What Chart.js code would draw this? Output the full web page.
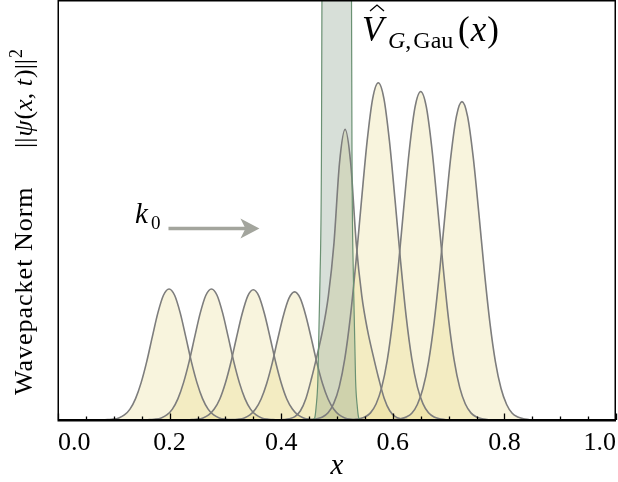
<!DOCTYPE html>
<html lang="en">
  <head>
    <meta charset="utf-8" />
    <title>Wavepacket Norm</title>
    <style>
      body {
        margin: 0;
        background-color: white;
      }
    </style>
  </head>
  <body>
    <canvas id="chart" width="618" height="482"></canvas>
    <script src="https://cdn.jsdelivr.net/npm/chart.js"></script>
    <script>
      // x offsets around each packet centre
      const offsets = [
        -0.12, -0.11, -0.1, -0.09, -0.08, -0.07, -0.06, -0.05, -0.04, -0.03,
        -0.02, -0.01, 0, 0.01, 0.02, 0.03, 0.04, 0.05, 0.06, 0.07, 0.08, 0.09,
        0.1, 0.11, 0.12,
      ];
      const packetCenters = [0.199, 0.275, 0.35, 0.424, 0.5145, 0.574, 0.65, 0.724];

      const packet1 = [0, 0.001, 0.002, 0.005, 0.012, 0.026, 0.051, 0.089, 0.139, 0.198, 0.255, 0.297, 0.312, 0.297, 0.255, 0.198, 0.139, 0.089, 0.051, 0.026, 0.012, 0.005, 0.002, 0.001, 0];
      const packet2 = [0, 0.001, 0.002, 0.005, 0.012, 0.026, 0.051, 0.089, 0.139, 0.198, 0.255, 0.297, 0.312, 0.297, 0.255, 0.198, 0.139, 0.089, 0.051, 0.026, 0.012, 0.005, 0.002, 0.001, 0];
      const packet3 = [0, 0.001, 0.002, 0.005, 0.012, 0.026, 0.05, 0.088, 0.138, 0.197, 0.253, 0.295, 0.31, 0.295, 0.253, 0.197, 0.138, 0.088, 0.05, 0.026, 0.012, 0.005, 0.002, 0.001, 0];
      const packet4 = [0, 0.001, 0.002, 0.005, 0.012, 0.026, 0.05, 0.087, 0.136, 0.194, 0.249, 0.29, 0.305, 0.29, 0.249, 0.194, 0.136, 0.087, 0.05, 0.026, 0.012, 0.005, 0.002, 0.001, 0];
      const packet5 = [0, 0.001, 0.003, 0.008, 0.022, 0.052, 0.1, 0.155, 0.215, 0.295, 0.42, 0.612, 0.692, 0.612, 0.42, 0.295, 0.215, 0.155, 0.1, 0.052, 0.022, 0.008, 0.003, 0.001, 0];
      const packet6 = [0.001, 0.003, 0.007, 0.017, 0.039, 0.079, 0.146, 0.246, 0.377, 0.524, 0.664, 0.766, 0.803, 0.766, 0.664, 0.524, 0.377, 0.246, 0.146, 0.079, 0.039, 0.017, 0.007, 0.003, 0.001];
      const packet7 = [0.001, 0.003, 0.007, 0.017, 0.038, 0.077, 0.142, 0.239, 0.367, 0.511, 0.647, 0.746, 0.782, 0.746, 0.647, 0.511, 0.367, 0.239, 0.142, 0.077, 0.038, 0.017, 0.007, 0.003, 0.001];
      const packet8 = [0.001, 0.003, 0.007, 0.016, 0.037, 0.075, 0.138, 0.232, 0.355, 0.495, 0.627, 0.723, 0.758, 0.723, 0.627, 0.495, 0.355, 0.232, 0.138, 0.075, 0.037, 0.016, 0.007, 0.003, 0.001];
      const packets = [packet1, packet2, packet3, packet4, packet5, packet6, packet7, packet8];

      // Gaussian barrier (goes off the top of the plot)
      const barrierX = [0.455, 0.46, 0.4625, 0.4657, 0.4695, 0.472, 0.473, 0.4735, 0.5255, 0.526, 0.527, 0.5295, 0.5333, 0.5365, 0.539, 0.544];
      const barrierY = [0, 0.005, 0.03, 0.095, 0.333, 0.6, 1.0, 1.6, 1.6, 1.0, 0.6, 0.333, 0.095, 0.03, 0.005, 0];

      const majorTicks = [0, 0.2, 0.4, 0.6, 0.8, 1.0];
      const minorTicks = [0.05, 0.1, 0.15, 0.25, 0.3, 0.35, 0.45, 0.5, 0.55, 0.65, 0.7, 0.75, 0.85, 0.9, 0.95];

      const serif = '"Liberation Serif", "Times New Roman", "DejaVu Serif", serif';

      // draw a run of text pieces one after another
      function drawRuns(ctx, runs, x, y) {
        for (const r of runs) {
          ctx.font = r.font;
          ctx.fillText(r.t, x + (r.dx || 0), y + (r.dy || 0));
          x += ctx.measureText(r.t).width + (r.dx || 0);
        }
        return x;
      }

      const decorations = {
        id: "decorations",
        afterDraw(chart) {
          const { ctx, chartArea: a, scales } = chart;
          const xs = scales.x;
          const ys = scales.y;
          ctx.save();
          ctx.fillStyle = "#000";
          ctx.strokeStyle = "#000";

          // frame
          ctx.lineWidth = 1.5;
          ctx.strokeRect(a.left + 0.25, a.top + 0.75, a.width - 1, a.height);
          ctx.lineWidth = 2;
          ctx.beginPath();
          ctx.moveTo(a.left, a.bottom);
          ctx.lineTo(a.right, a.bottom);
          ctx.stroke();

          // inward ticks
          ctx.lineWidth = 1.3;
          ctx.beginPath();
          majorTicks.forEach((v) => {
            const px = Math.round(xs.getPixelForValue(v)) + 0.5;
            ctx.moveTo(px, a.bottom);
            ctx.lineTo(px, a.bottom - 6.5);
          });
          minorTicks.forEach((v) => {
            const px = Math.round(xs.getPixelForValue(v)) + 0.5;
            ctx.moveTo(px, a.bottom);
            ctx.lineTo(px, a.bottom - 3.5);
          });
          ctx.stroke();

          // x title
          ctx.textAlign = "center";
          ctx.textBaseline = "alphabetic";
          ctx.font = "italic 29px " + serif;
          ctx.fillText("x", xs.getPixelForValue(0.5), 474);

          // y title, rotated
          ctx.save();
          ctx.translate(31.5, 395);
          ctx.rotate(-Math.PI / 2);
          ctx.textAlign = "left";
          ctx.letterSpacing = "1px";
          ctx.font = "26px " + serif;
          ctx.fillText("Wavepacket Norm", 0, 0);
          ctx.letterSpacing = "0px";
          const f = "26px " + serif;
          const fi = "italic 26px " + serif;
          drawRuns(ctx, [
            { t: "||", font: f },
            { t: "ψ", font: fi, dx: 1 },
            { t: "(", font: f, dx: 1 },
            { t: "x", font: fi },
            { t: ", ", font: f },
            { t: "t", font: fi },
            { t: ")", font: f, dx: 1 },
            { t: "||", font: f },
            { t: "2", font: "18px " + serif, dy: -10, dx: 1 },
          ], 247, 0);
          ctx.restore();

          // barrier label
          ctx.textAlign = "left";
          ctx.font = "italic 35px " + serif;
          ctx.fillText("V", 362, 41);
          ctx.lineWidth = 1.3;
          ctx.beginPath();
          ctx.moveTo(370, 11);
          ctx.lineTo(377, 5);
          ctx.lineTo(384, 11);
          ctx.stroke();
          drawRuns(ctx, [
            { t: "G", font: "italic 24px " + serif },
            { t: ",", font: "24px " + serif },
            { t: "Gau", font: "24px " + serif, dx: 2 },
          ], 388, 48);
          drawRuns(ctx, [
            { t: "(", font: "35px " + serif },
            { t: "x", font: "italic 35px " + serif, dx: 1 },
            { t: ")", font: "35px " + serif, dx: 1 },
          ], 458, 41);

          // k0 arrow
          ctx.font = "italic 29px " + serif;
          ctx.fillText("k", 135, 223);
          ctx.font = "19px " + serif;
          ctx.fillText("0", 151, 229);

          const ax0 = xs.getPixelForValue(0.198);
          const ax1 = xs.getPixelForValue(0.361);
          const ay = ys.getPixelForValue(0.456);
          ctx.strokeStyle = "#a3a59d";
          ctx.fillStyle = "#a3a59d";
          ctx.lineWidth = 3.5;
          ctx.beginPath();
          ctx.moveTo(ax0, ay);
          ctx.lineTo(ax1 - 12, ay);
          ctx.stroke();
          ctx.beginPath();
          ctx.moveTo(ax1, ay);
          ctx.lineTo(ax1 - 19, ay - 10);
          ctx.lineTo(ax1 - 14, ay);
          ctx.lineTo(ax1 - 19, ay + 10);
          ctx.closePath();
          ctx.fill();

          ctx.restore();
        },
      };

      const packetSets = packets.map((vals, k) => ({
        label: "packet " + (k + 1),
        data: offsets.map((d, i) => ({ x: packetCenters[k] + d, y: vals[i] })),
        borderColor: "#7d7d7d",
        borderWidth: 1.6,
        backgroundColor: "rgba(222, 202, 85, 0.2)",
        fill: "origin",
        cubicInterpolationMode: "monotone",
        pointRadius: 0,
      }));

      const barrierSet = {
        label: "barrier",
        data: barrierX.map((v, i) => ({ x: v, y: barrierY[i] })),
        borderColor: "#6a9173",
        borderWidth: 1.2,
        backgroundColor: "rgba(110, 140, 115, 0.28)",
        fill: "origin",
        cubicInterpolationMode: "monotone",
        pointRadius: 0,
      };

      new Chart(document.getElementById("chart"), {
        type: "line",
        data: { datasets: [barrierSet, ...packetSets] },
        options: {
          responsive: false,
          animation: false,
          layout: { padding: { left: 58, right: 2, top: 0, bottom: 0 } },
          plugins: {
            legend: { display: false },
            tooltip: { enabled: false },
            filler: { drawTime: "beforeDatasetsDraw" },
          },
          scales: {
            x: {
              type: "linear",
              min: 0,
              max: 1,
              afterFit: (scale) => {
                scale.height = 62;
                scale.paddingLeft = 0;
                scale.paddingRight = 0;
              },
              grid: { display: false, drawTicks: false },
              border: { display: false },
              ticks: {
                stepSize: 0.2,
                align: "inner",
                padding: 8,
                maxRotation: 0,
                color: "#000",
                font: { family: serif, size: 26 },
                callback: (v) => v.toFixed(1),
              },
            },
            y: {
              display: false,
              min: 0,
              max: 1,
            },
          },
        },
        plugins: [decorations],
      });
    </script>
  </body>
</html>
